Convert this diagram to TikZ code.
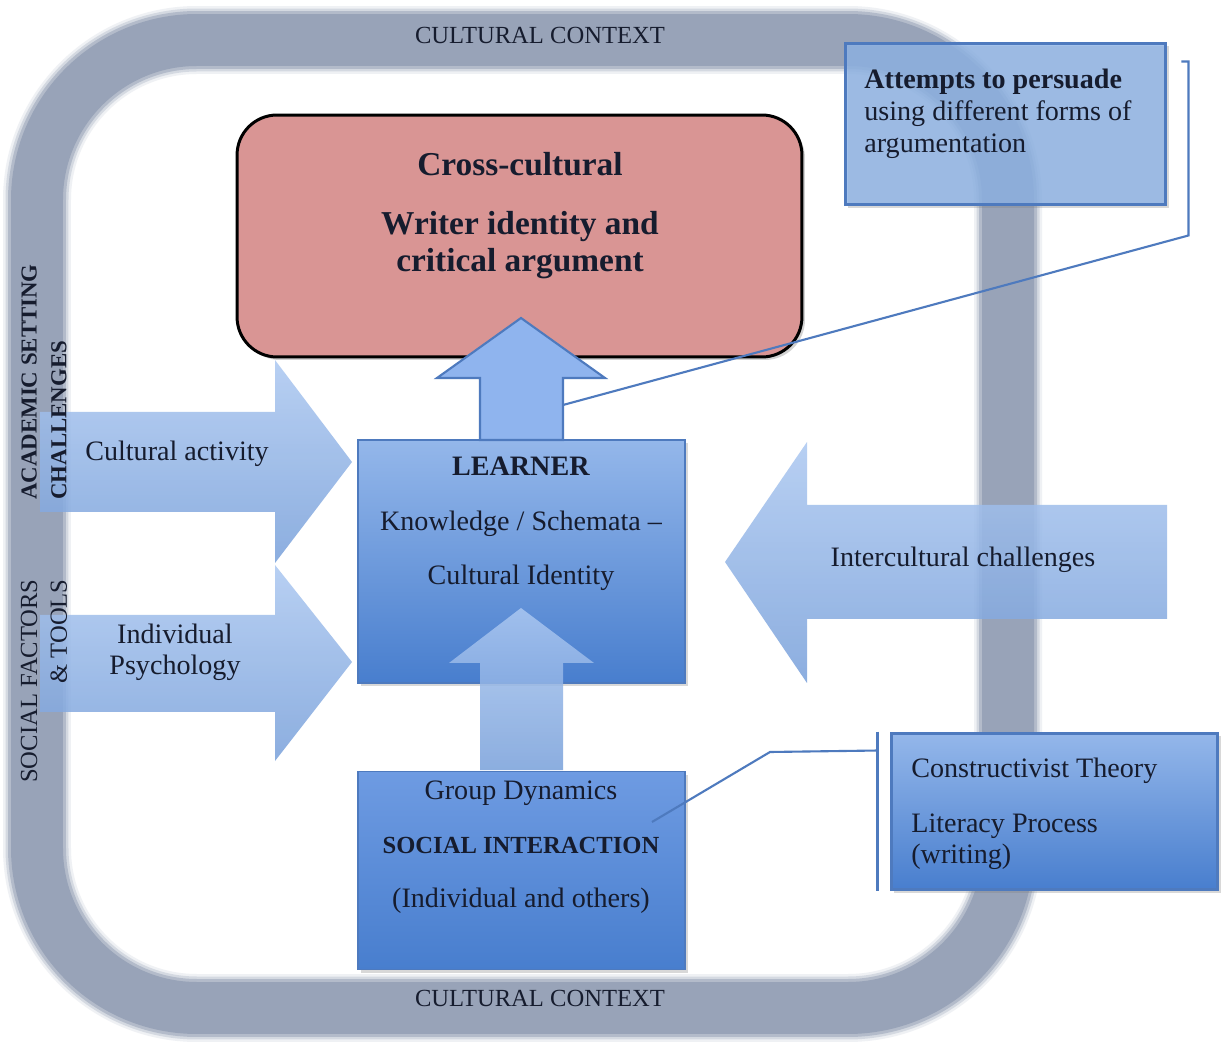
\documentclass[tikz,border=0pt]{standalone}
\usepackage{fontspec}
\setmainfont{Liberation Serif}
\usetikzlibrary{positioning,shadows}
\definecolor{bandgray}{RGB}{152,163,184}
\definecolor{goalred}{RGB}{217,149,148}
\definecolor{arrowtop}{RGB}{172,200,241}
\definecolor{arrowbot}{RGB}{120,160,218}
\definecolor{arrowflat}{RGB}{143,180,238}
\definecolor{boxtop}{RGB}{148,183,234}
\definecolor{boxmid}{RGB}{110,155,226}
\definecolor{boxbot}{RGB}{72,126,206}
\definecolor{boxedge}{RGB}{78,122,190}
\definecolor{notefill}{RGB}{141,179,230}
\definecolor{ink}{RGB}{22,28,46}
\tikzstyle{band} = [draw=bandgray, rounded corners=3.2cm]
\tikzstyle{bigarrow} = [top color=arrowtop, bottom color=arrowbot, fill opacity=0.85]
\tikzstyle{block} = [rectangle, draw=boxedge, line width=0.9pt, inner sep=0pt,
    bottom color=boxbot, drop shadow={opacity=0.3, shadow xshift=0.06cm, shadow yshift=-0.06cm}]
\tikzstyle{note} = [rectangle, draw=boxedge, line width=1.7pt, inner sep=0pt,
    drop shadow={opacity=0.3, shadow xshift=0.06cm, shadow yshift=-0.06cm}]
\tikzstyle{callout} = [draw=boxedge, line width=1.2pt]
\tikzstyle{txt} = [text=ink, inner sep=0pt, font=\fontsize{16}{18}\selectfont]
\tikzstyle{caps} = [text=ink, inner sep=0pt, font=\fontsize{14}{17}\selectfont]

\begin{document}
\begin{tikzpicture}[x=0.02cm, y=-0.02cm]
    \fill[white] (0,0) rectangle (1225,1047);
    \useasboundingbox (0,0) rectangle (1225,1047);

    \foreach \w/\o in {1.36/0.15, 1.26/0.3, 1.16/0.55, 1.04/1}
        \draw[band, line width=\w cm, draw opacity=\o] (37,40) rectangle (1008,1008);

    \node[caps] (ctxtop) at (540,35) {CULTURAL CONTEXT};
    \node[caps] (ctxbot) at (540,998) {CULTURAL CONTEXT};

    \node[rectangle, rounded corners=0.8cm, draw=black, line width=1.7pt, fill=goalred,
        minimum width=11.3cm, minimum height=4.84cm,
        drop shadow={opacity=0.35, shadow xshift=0.06cm, shadow yshift=-0.06cm}]
        (goal) at (519.5,236) {};
    \node[txt, anchor=north, align=center, font=\fontsize{19}{21}\selectfont\bfseries]
        (goaltxt) at (520,152) {Cross-cultural\\[0.44cm]Writer identity and\\critical argument};

    \node[block, top color=boxtop, minimum width=6.54cm, minimum height=4.86cm]
        (learner) at (521.5,561.5) {};
    \node[block, top color=boxmid, minimum width=6.54cm, minimum height=3.96cm,
        below=1.74cm of learner] (social) {};

    \path[bigarrow] (40,412) -- (275,412) -- (275,360) -- (352,462) -- (275,563)
        -- (275,512) -- (40,512) -- cycle;
    \path[bigarrow] (40,615) -- (275,615) -- (275,565) -- (352,662) -- (275,761)
        -- (275,712) -- (40,712) -- cycle;
    \path[bigarrow] (1167,505) -- (807,505) -- (807,442) -- (725,562) -- (807,683)
        -- (807,619) -- (1167,619) -- cycle;
    \path[fill=arrowflat, draw=boxedge, line width=1.2pt, line join=miter]
        (480,440) -- (480,378) -- (437,378) -- (521,318) -- (605,378)
        -- (563,378) -- (563,440) -- cycle;
    \path[bigarrow] (480,770) -- (480,663) -- (449,663) -- (521,608) -- (594,663)
        -- (563,663) -- (563,770) -- cycle;

    \node[txt, anchor=north, align=center, font=\fontsize{16}{31}\selectfont]
        (learnertxt) at (521,457) {\textbf{LEARNER}\\Knowledge / Schemata --\\Cultural Identity};
    \node[txt, anchor=north, align=center, font=\fontsize{16}{30.5}\selectfont]
        (socialtxt) at (521,781) {Group Dynamics\\{\fontsize{14}{17}\selectfont\bfseries SOCIAL INTERACTION}\\(Individual and others)};

    \node[txt] (activity) at (177,454) {Cultural activity};
    \node[txt, align=center, font=\fontsize{16}{17.6}\selectfont] (psych) at (175,652) {Individual\\Psychology};
    \node[txt] (intercult) at (963,560) {Intercultural challenges};

    \node[caps, rotate=90, anchor=west, align=left, font=\fontsize{13}{17}\selectfont\bfseries]
        (academic) at (44,500) {ACADEMIC SETTING\\CHALLENGES};
    \node[caps, rotate=90, anchor=east, align=right] (socialf) at (44,579) {SOCIAL FACTORS\\\& TOOLS};

    \node[note, fill=notefill, fill opacity=0.8, minimum width=6.42cm, minimum height=3.24cm]
        (attempts) at (1005.5,124) {};
    \node[txt, anchor=north west, align=left] (attemptstxt) at (864,69)
        {\textbf{Attempts to persuade}\\using different forms of\\argumentation};

    \node[note, top color=boxtop, bottom color=boxbot, minimum width=6.54cm, minimum height=3.14cm]
        (theory) at (1054.5,811.5) {};
    \node[txt, anchor=north west, align=left, font=\fontsize{16}{17.6}\selectfont] (theorytxt) at (911,758)
        {Constructivist Theory\\[0.48cm]Literacy Process\\(writing)};

    \coordinate (pin1) at (563,405);
    \coordinate (pin2) at (652,822);
    \coordinate (bend2) at (770,752);
    \draw[callout] ([xshift=0.28cm, yshift=-0.4cm]attempts.north east) -- ++(0.14cm,0)
        -- ++(0,-3.48cm) -- (pin1);
    \draw[callout] ([xshift=-0.24cm]theory.north west) -- ([xshift=-0.24cm]theory.south west);
    \draw[callout] ([xshift=-0.24cm, yshift=-0.38cm]theory.north west) -- (bend2) -- (pin2);
\end{tikzpicture}
\end{document}
